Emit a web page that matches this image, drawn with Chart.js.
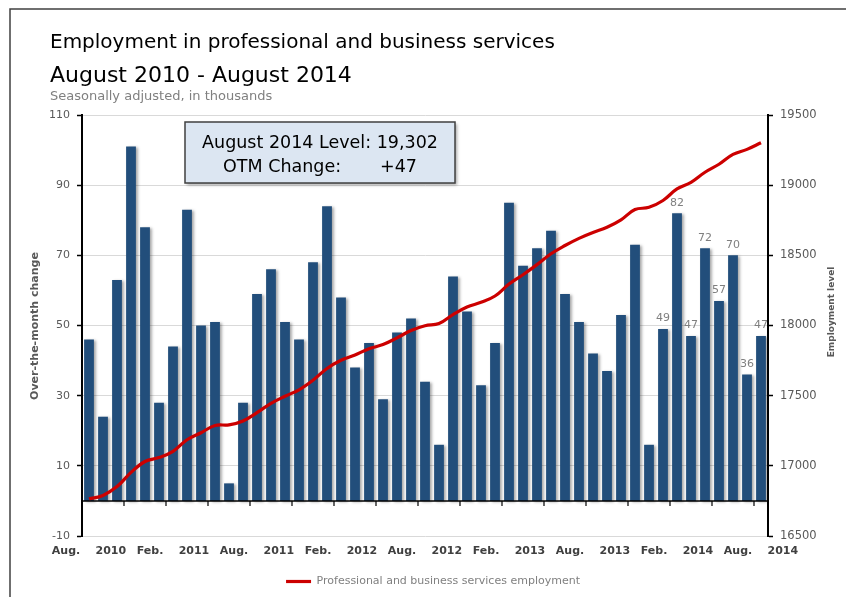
<!DOCTYPE html>
<html>
<head>
<meta charset="utf-8">
<script src="https://cdn.jsdelivr.net/npm/chart.js@4.4.1/dist/chart.umd.min.js"></script>
<style>
  html, body { margin: 0; padding: 0; background: #ffffff; }
  #wrap { position: relative; width: 846px; height: 597px; }
  canvas { display: block; }
</style>
</head>
<body>
<div id="wrap"><canvas id="c" width="846" height="597"></canvas></div>
<script>
// ---------------- data ----------------
const categories = [
  'Aug. 2010','Sep. 2010','Oct. 2010','Nov. 2010','Dec. 2010',
  'Jan. 2011','Feb. 2011','Mar. 2011','Apr. 2011','May 2011','Jun. 2011','Jul. 2011','Aug. 2011','Sep. 2011','Oct. 2011','Nov. 2011','Dec. 2011',
  'Jan. 2012','Feb. 2012','Mar. 2012','Apr. 2012','May 2012','Jun. 2012','Jul. 2012','Aug. 2012','Sep. 2012','Oct. 2012','Nov. 2012','Dec. 2012',
  'Jan. 2013','Feb. 2013','Mar. 2013','Apr. 2013','May 2013','Jun. 2013','Jul. 2013','Aug. 2013','Sep. 2013','Oct. 2013','Nov. 2013','Dec. 2013',
  'Jan. 2014','Feb. 2014','Mar. 2014','Apr. 2014','May 2014','Jun. 2014','Jul. 2014','Aug. 2014'
];
const otmChange = [
  46, 24, 63, 101, 78, 28, 44, 83, 50, 51,
  5, 28, 59, 66, 51, 46, 68, 84, 58, 38,
  45, 29, 48, 52, 34, 16, 64, 54, 33, 45,
  85, 67, 72, 77, 59, 51, 42, 37, 53, 73,
  16, 49, 82, 47, 72, 57, 70, 36, 47
];
const employmentLevel = [
  16765, 16789, 16852, 16953, 17031, 17059, 17103, 17186, 17236, 17287,
  17292, 17320, 17379, 17445, 17496, 17542, 17610, 17694, 17752, 17790,
  17835, 17864, 17912, 17964, 17998, 18014, 18078, 18132, 18165, 18210,
  18295, 18362, 18434, 18511, 18570, 18621, 18663, 18700, 18753, 18826,
  18842, 18891, 18973, 19020, 19092, 19149, 19219, 19255, 19302
];
const leftAxisTicks = [-10, 10, 30, 50, 70, 90, 110];
const rightAxisTicks = [16500, 17000, 17500, 18000, 18500, 19000, 19500];
const xTickLabels = ['Aug. 2010','Feb. 2011','Aug. 2011','Feb. 2012','Aug. 2012','Feb. 2013','Aug. 2013','Feb. 2014','Aug. 2014'];
const xTickEvery = 6;
const baselineTickEvery = 3;
const labeledFromIndex = 41;
const titleLines = ['Employment in professional and business services', 'August 2010 - August 2014'];
const subtitleText = 'Seasonally adjusted, in thousands';
const leftAxisTitle = 'Over-the-month change';
const rightAxisTitle = 'Employment level';
const boxLines = ['August 2014 Level: 19,302', 'OTM Change:       +47'];
const lineLabel = 'Professional and business services employment';

// ---------------- styling ----------------
const FONT = '"DejaVu Sans", Verdana, sans-serif';
const BAR_COLOR = '#224E7B';
const LINE_COLOR = '#CC0000';

const decor = {
  id: 'decor',
  beforeDraw(chart) {
    const ctx = chart.ctx;
    ctx.save();
    ctx.fillStyle = '#ffffff';
    ctx.fillRect(0, 0, chart.width, chart.height);
    // frame
    ctx.strokeStyle = '#404040';
    ctx.lineWidth = 1.5;
    ctx.beginPath();
    ctx.moveTo(10, chart.height);
    ctx.lineTo(10, 9);
    ctx.lineTo(chart.width, 9);
    ctx.stroke();
    // titles
    ctx.textAlign = 'left';
    ctx.textBaseline = 'alphabetic';
    ctx.fillStyle = '#000000';
    ctx.font = '20px ' + FONT;
    ctx.fillText(titleLines[0], 50, 48);
    ctx.font = '22px ' + FONT;
    ctx.fillText(titleLines[1], 50, 82);
    ctx.fillStyle = '#808080';
    ctx.font = '13px ' + FONT;
    ctx.fillText(subtitleText, 50, 100);
    // axis titles
    ctx.fillStyle = '#595959';
    ctx.textAlign = 'center';
    ctx.textBaseline = 'middle';
    ctx.save();
    ctx.translate(35, 326);
    ctx.rotate(-Math.PI / 2);
    ctx.font = 'bold 11px ' + FONT;
    ctx.fillText(leftAxisTitle, 0, 0);
    ctx.restore();
    ctx.save();
    ctx.translate(832, 312);
    ctx.rotate(-Math.PI / 2);
    ctx.font = 'bold 9px ' + FONT;
    ctx.fillText(rightAxisTitle, 0, 0);
    ctx.restore();
    ctx.restore();
  },
  beforeDatasetDraw(chart, args) {
    if (args.index === 0) {
      const ctx = chart.ctx;
      ctx.save();
      ctx.shadowColor = 'rgba(0,0,0,0.35)';
      ctx.shadowBlur = 3;
      ctx.shadowOffsetX = 2;
      ctx.shadowOffsetY = 1;
    }
  },
  afterDatasetDraw(chart, args) {
    if (args.index !== 0) return;
    const ctx = chart.ctx;
    ctx.restore();
    // zero baseline with tick marks every 3 categories
    const xs = chart.scales.x, ys = chart.scales.y, area = chart.chartArea;
    const y0 = ys.getPixelForValue(0);
    ctx.save();
    ctx.strokeStyle = '#000000';
    ctx.lineWidth = 1.5;
    ctx.beginPath();
    ctx.moveTo(area.left, y0);
    ctx.lineTo(area.right, y0);
    ctx.stroke();
    ctx.lineWidth = 1.2;
    const half = (xs.getPixelForValue(1) - xs.getPixelForValue(0)) / 2;
    for (let i = baselineTickEvery; i < categories.length; i += baselineTickEvery) {
      const x = xs.getPixelForValue(i) - half;
      ctx.beginPath();
      ctx.moveTo(x, y0);
      ctx.lineTo(x, y0 + 5);
      ctx.stroke();
    }
    ctx.restore();
  },
  afterDatasetsDraw(chart) {
    const ctx = chart.ctx;
    // data labels on the latest bars
    const meta = chart.getDatasetMeta(0);
    ctx.save();
    ctx.fillStyle = '#7F7F7F';
    ctx.font = '11px ' + FONT;
    ctx.textAlign = 'center';
    ctx.textBaseline = 'bottom';
    for (let i = labeledFromIndex; i < otmChange.length; i++) {
      const el = meta.data[i];
      ctx.fillText(String(otmChange[i]), el.x, el.y - 5);
    }
    ctx.restore();
    // summary box
    ctx.save();
    ctx.shadowColor = 'rgba(0,0,0,0.35)';
    ctx.shadowBlur = 3;
    ctx.shadowOffsetX = 2;
    ctx.shadowOffsetY = 2;
    ctx.fillStyle = '#DCE6F2';
    ctx.fillRect(185, 122, 270, 61);
    ctx.shadowColor = 'transparent';
    ctx.strokeStyle = '#404040';
    ctx.lineWidth = 1.5;
    ctx.strokeRect(185, 122, 270, 61);
    ctx.fillStyle = '#000000';
    ctx.font = '17.5px ' + FONT;
    ctx.textAlign = 'center';
    ctx.textBaseline = 'alphabetic';
    ctx.fillText(boxLines[0], 320, 148);
    ctx.fillText(boxLines[1], 320, 172);
    ctx.restore();
  }
};

new Chart(document.getElementById('c'), {
  data: {
    labels: categories,
    datasets: [
      {
        type: 'bar',
        label: 'Over-the-month change',
        data: otmChange,
        yAxisID: 'y',
        backgroundColor: BAR_COLOR,
        borderWidth: 0,
        barPercentage: 0.7,
        categoryPercentage: 1.0,
        order: 1
      },
      {
        type: 'line',
        label: lineLabel,
        data: employmentLevel,
        yAxisID: 'y1',
        borderColor: LINE_COLOR,
        backgroundColor: LINE_COLOR,
        borderWidth: 3.2,
        pointRadius: 0,
        tension: 0.4,
        fill: false,
        order: 0
      }
    ]
  },
  options: {
    responsive: false,
    animation: false,
    devicePixelRatio: 1,
    layout: { padding: { top: 115, left: 20, right: 0, bottom: 0 } },
    plugins: {
      title: { display: false },
      tooltip: { enabled: false },
      legend: {
        display: true,
        position: 'bottom',
        fullSize: true,
        labels: {
          filter: (item) => item.datasetIndex === 1,
          usePointStyle: true,
          pointStyle: 'line',
          pointStyleWidth: 25,
          color: '#808080',
          font: { family: FONT, size: 11 },
          padding: 10
        }
      }
    },
    scales: {
      x: {
        type: 'category',
        offset: true,
        grid: { display: false, drawTicks: false },
        border: { display: false },
        ticks: {
          autoSkip: false,
          maxRotation: 0,
          minRotation: 0,
          padding: 9,
          color: '#404040',
          font: { family: FONT, size: 11, weight: 'bold' },
          callback: (v, i) => (i % xTickEvery === 0 ? xTickLabels[i / xTickEvery].replace(' ', '    ') : '')
        },
        afterFit: (s) => { s.height = 30; }
      },
      y: {
        position: 'left',
        min: leftAxisTicks[0],
        max: leftAxisTicks[leftAxisTicks.length - 1],
        afterBuildTicks: (s) => { s.ticks = leftAxisTicks.map(v => ({ value: v })); },
        grid: { color: '#D9D9D9', lineWidth: 1, drawTicks: true, tickLength: 5, tickColor: '#000000', tickWidth: 1.5 },
        border: { display: true, color: '#000000', width: 2 },
        ticks: {
          padding: 7,
          color: '#595959',
          font: { family: FONT, size: 11 },
          callback: (v) => String(v)
        },
        afterFit: (s) => { s.width = 62; }
      },
      y1: {
        position: 'right',
        min: rightAxisTicks[0],
        max: rightAxisTicks[rightAxisTicks.length - 1],
        afterBuildTicks: (s) => { s.ticks = rightAxisTicks.map(v => ({ value: v })); },
        grid: { drawOnChartArea: false, drawTicks: true, tickLength: 5, tickColor: '#000000', tickWidth: 1.5 },
        border: { display: true, color: '#000000', width: 2 },
        ticks: {
          padding: 7,
          color: '#595959',
          font: { family: FONT, size: 11.5 },
          callback: (v) => String(v)
        },
        afterFit: (s) => { s.width = 78; }
      }
    }
  },
  plugins: [decor]
});
</script>
</body>
</html>
